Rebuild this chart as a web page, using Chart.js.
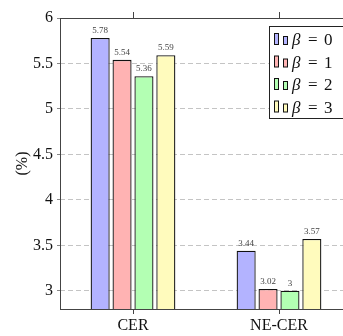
<!DOCTYPE html>
<html>
<head>
<meta charset="utf-8">
<script src="https://cdn.jsdelivr.net/npm/chart.js@4"></script>
<style>
  html, body { margin: 0; padding: 0; background: #fff; overflow: hidden; }
  #wrap { width: 343px; height: 336px; overflow: hidden; }
</style>
</head>
<body>
<div id="wrap">
  <canvas id="chart" width="360" height="336"></canvas>
</div>
<script>
// values
const categories = ['CER', 'NE-CER'];
const seriesNames = ['\u03b2 = 0', '\u03b2 = 1', '\u03b2 = 2', '\u03b2 = 3'];
const beta0 = [5.78, 3.44];
const beta1 = [5.54, 3.02];
const beta2 = [5.36, 3.00];
const beta3 = [5.59, 3.57];
const yTicks = [3, 3.5, 4, 4.5, 5, 5.5, 6];

const fills = ['#b3b3ff', '#ffb3b3', '#b3ffb3', '#fffbbd'];
const serif = 'Liberation Serif, Times New Roman, serif';

// little labels on top of each bar
const valueLabels = {
    id: 'valueLabels',
    afterDatasetsDraw(chart) {
        const ctx = chart.ctx;
        ctx.save();
        ctx.font = '9px ' + serif;
        ctx.fillStyle = '#444';
        ctx.textAlign = 'center';
        ctx.textBaseline = 'bottom';
        chart.data.datasets.forEach((ds, i) => {
            chart.getDatasetMeta(i).data.forEach((bar, j) => {
                ctx.fillText(String(ds.data[j]), bar.x, bar.y - 3);
            });
        });
        ctx.restore();
    }
};

// box around the plot and the ticks on the top edge
const frame = {
    id: 'frame',
    afterDraw(chart) {
        const ctx = chart.ctx;
        const a = chart.chartArea;
        ctx.save();
        ctx.strokeStyle = '#444';
        ctx.lineWidth = 1;
        ctx.strokeRect(a.left + 0.5, a.top + 0.5, a.right - a.left, a.bottom - a.top);
        const xs = chart.scales.x;
        categories.forEach((c, i) => {
            const px = Math.round(xs.getPixelForValue(i)) + 0.5;
            ctx.beginPath();
            ctx.moveTo(px, a.top);
            ctx.lineTo(px, a.top - 6);
            ctx.stroke();
        });
        ctx.restore();
    }
};

// pgfplots-like legend in the upper right
const boxLegend = {
    id: 'boxLegend',
    afterDraw(chart) {
        const ctx = chart.ctx;
        const bx = 269.5, by = 26.5, bw = 90, bh = 92;
        ctx.save();
        ctx.fillStyle = '#fff';
        ctx.fillRect(bx, by, bw, bh);
        ctx.strokeStyle = '#222';
        ctx.lineWidth = 1;
        ctx.strokeRect(bx, by, bw, bh);
        ctx.textBaseline = 'alphabetic';
        seriesNames.forEach((name, i) => {
            const base = 45 + i * 22.5;
            ctx.fillStyle = fills[i];
            ctx.strokeStyle = '#111';
            ctx.fillRect(274.5, base - 11.5, 4, 11);
            ctx.strokeRect(274.5, base - 11.5, 4, 11);
            ctx.fillRect(283.5, base - 8.5, 4, 8);
            ctx.strokeRect(283.5, base - 8.5, 4, 8);
            ctx.fillStyle = '#111';
            ctx.font = 'italic 17px ' + serif;
            ctx.fillText(name.charAt(0), 292, base);
            ctx.font = '17px ' + serif;
            ctx.fillText('=', 308, base);
            ctx.fillText(name.slice(-1), 324, base);
        });
        ctx.restore();
    }
};

new Chart(document.getElementById('chart'), {
    type: 'bar',
    data: {
        labels: categories,
        datasets: [beta0, beta1, beta2, beta3].map((d, i) => ({
            label: seriesNames[i],
            data: d,
            backgroundColor: fills[i],
            borderColor: '#111',
            borderWidth: 1.3,
            categoryPercentage: 0.6,
            barPercentage: 0.87
        }))
    },
    options: {
        responsive: false,
        animation: false,
        layout: { padding: { top: 18, right: 8, left: 0, bottom: 0 } },
        plugins: {
            legend: { display: false },
            tooltip: { enabled: false }
        },
        scales: {
            x: {
                offset: true,
                grid: { drawOnChartArea: false, offset: false, tickLength: 5, color: '#444' },
                border: { display: false },
                ticks: { color: '#111', font: { family: serif, size: 16 }, padding: 2 },
                afterFit: s => { s.height = 27; }
            },
            y: {
                min: 2.8,
                max: 6,
                afterBuildTicks: s => { s.ticks = yTicks.map(v => ({ value: v })); },
                grid: { color: '#c4c4c4', tickColor: '#888', tickLength: 3 },
                border: { display: false, dash: [5, 3] },
                ticks: { color: '#111', font: { family: serif, size: 16 }, padding: 4, callback: v => String(v) },
                title: { display: true, text: '(%)', color: '#111', font: { family: serif, size: 16 }, padding: { top: 13, bottom: 0 } },
                afterFit: s => { s.width = 60; }
            }
        }
    },
    plugins: [valueLabels, frame, boxLegend]
});
</script>
</body>
</html>
